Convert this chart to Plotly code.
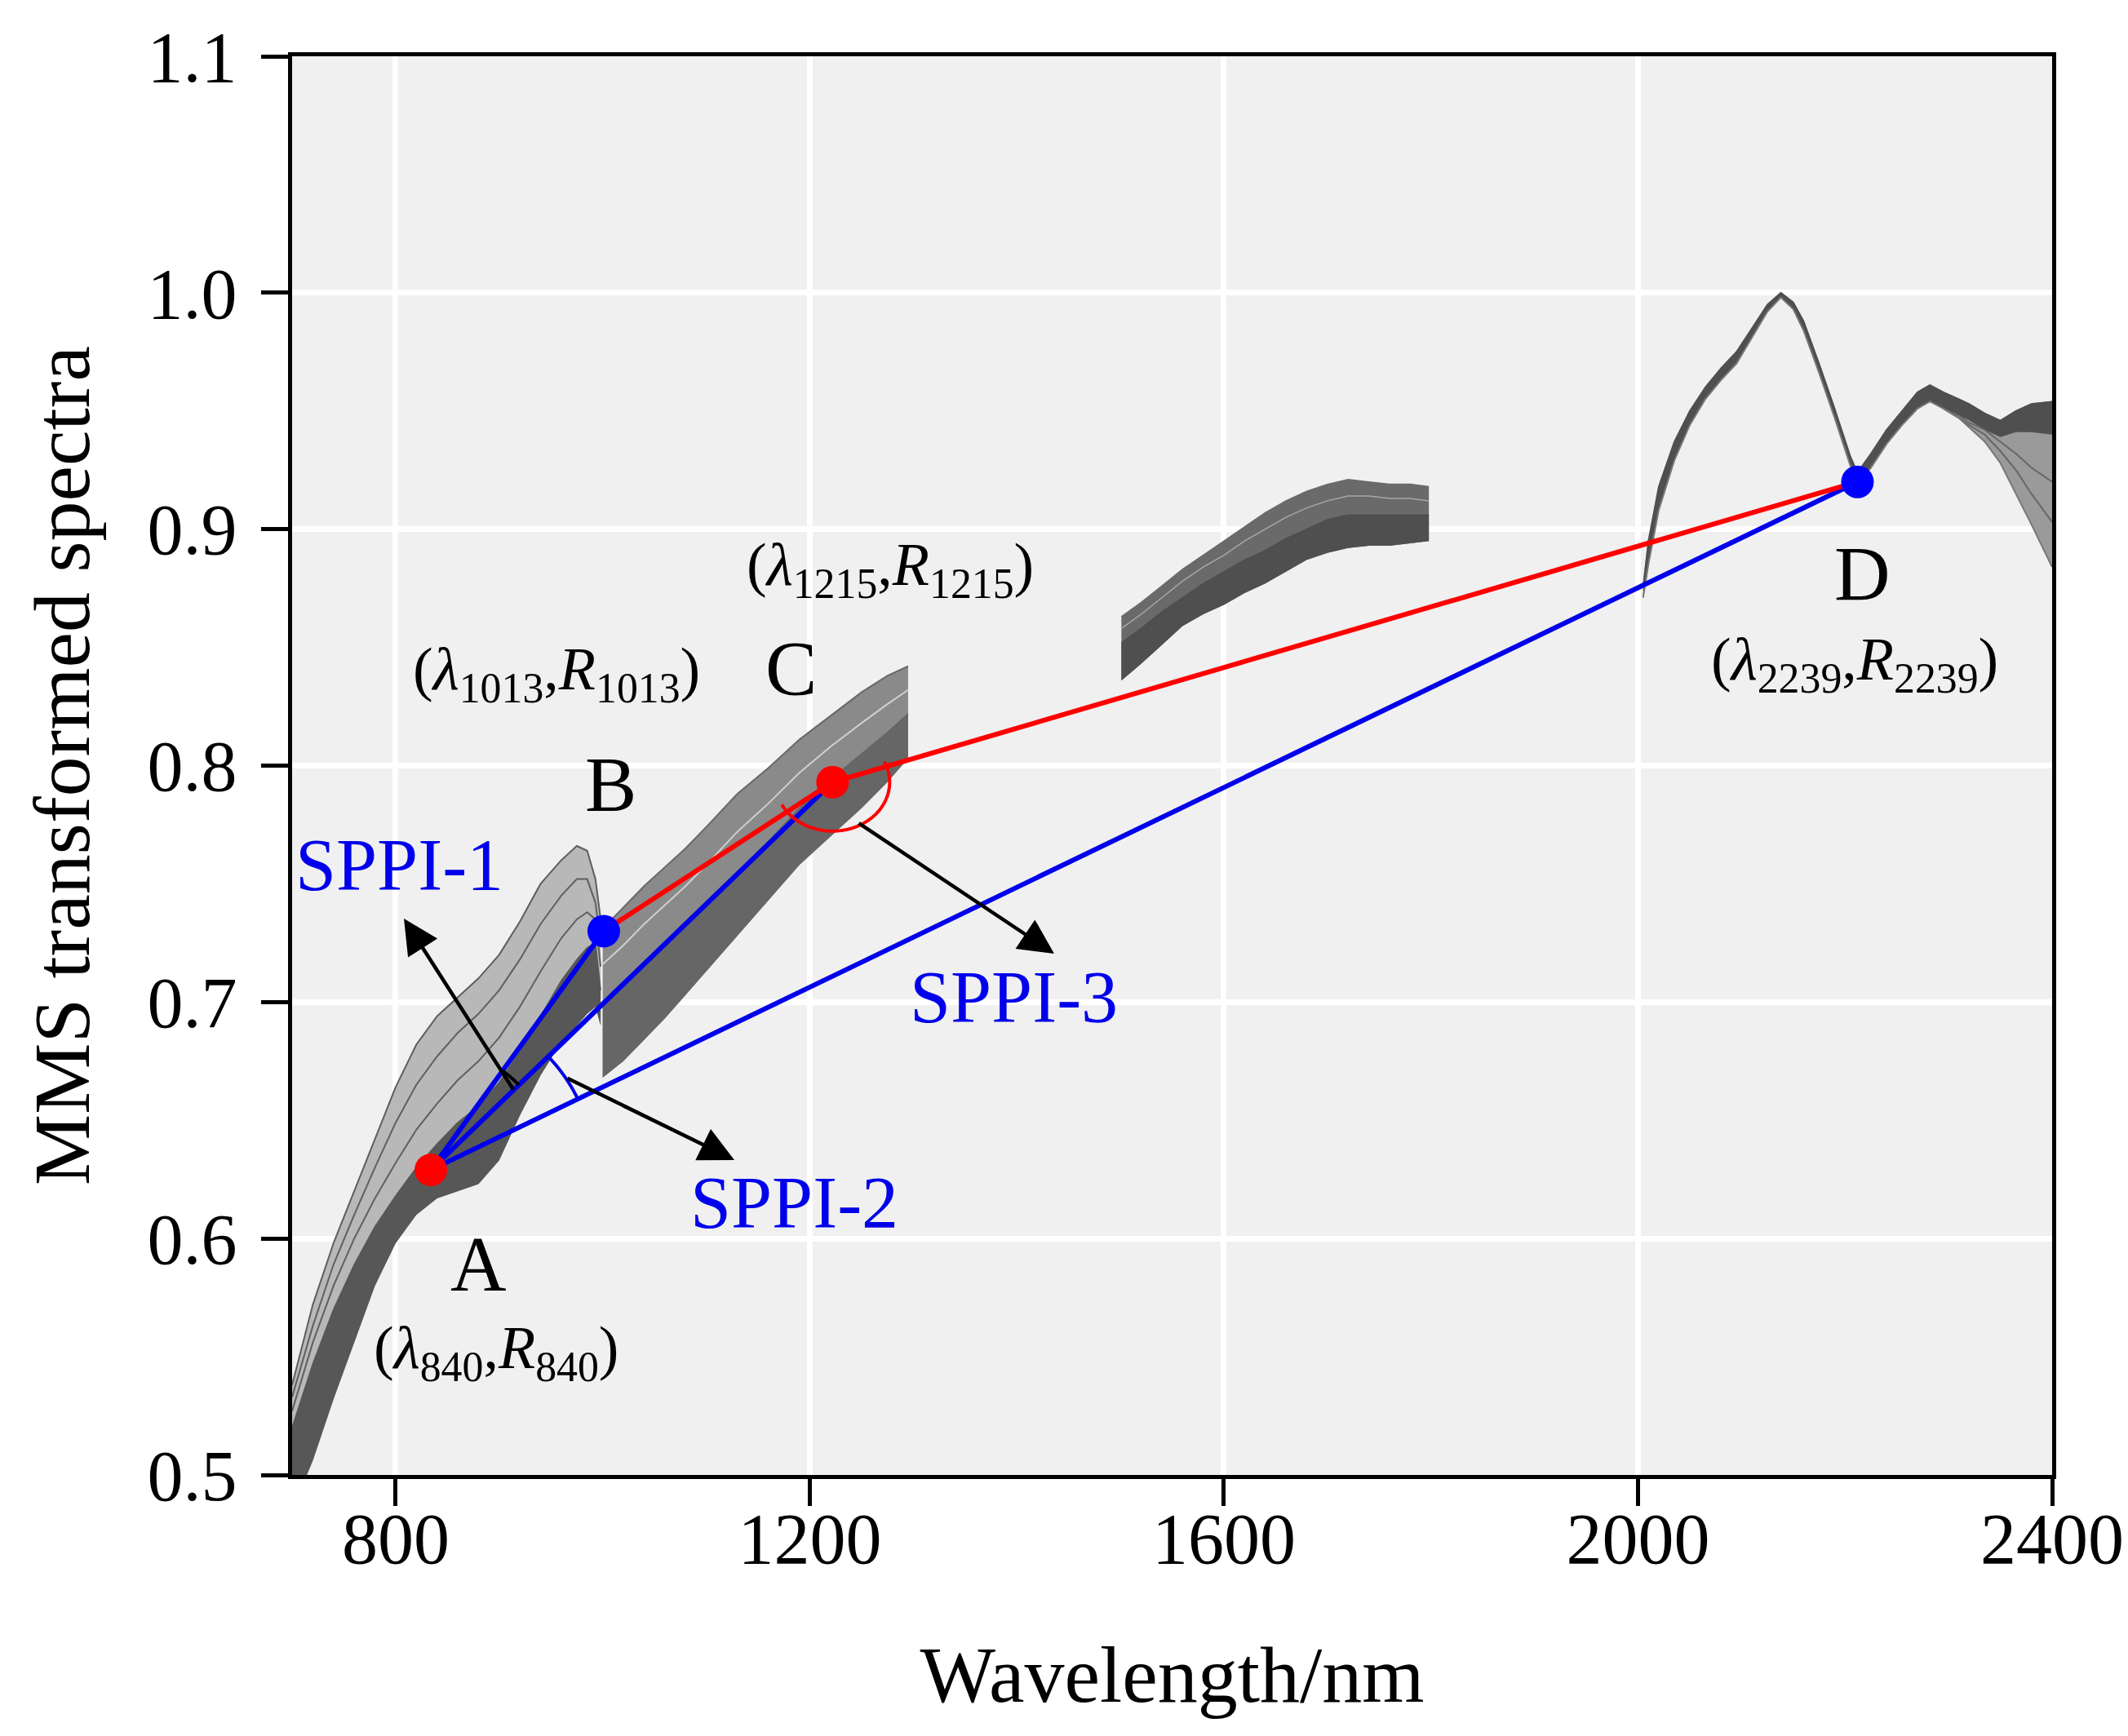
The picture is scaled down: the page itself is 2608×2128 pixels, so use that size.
import numpy as np
import plotly.graph_objects as go

# ---- spectra bundles (wavelength nm / MMS value) ----
seg1_wl = [700, 720, 740, 760, 780, 800, 820, 840, 860, 880, 900, 920, 940, 960, 975, 985, 993, 998]
seg1_upper = [0.538, 0.572, 0.598, 0.620, 0.642, 0.664, 0.682, 0.694, 0.702, 0.710, 0.720, 0.734, 0.750, 0.760, 0.766, 0.764, 0.752, 0.735]
seg1_mid_a = [0.533, 0.563, 0.589, 0.610, 0.630, 0.649, 0.665, 0.677, 0.687, 0.695, 0.705, 0.718, 0.733, 0.745, 0.752, 0.752, 0.742, 0.725]
seg1_mid_b = [0.527, 0.556, 0.580, 0.600, 0.617, 0.632, 0.646, 0.657, 0.667, 0.675, 0.685, 0.698, 0.713, 0.727, 0.735, 0.738, 0.735, 0.715]
seg1_core_top = [0.520, 0.547, 0.570, 0.589, 0.605, 0.618, 0.630, 0.640, 0.649, 0.656, 0.666, 0.679, 0.694, 0.709, 0.718, 0.723, 0.725, 0.705]
seg1_lower = [0.485, 0.506, 0.532, 0.556, 0.580, 0.598, 0.610, 0.617, 0.620, 0.623, 0.633, 0.652, 0.669, 0.683, 0.690, 0.695, 0.698, 0.690]

seg2_wl = [1000, 1020, 1040, 1060, 1080, 1100, 1130, 1160, 1190, 1220, 1250, 1275, 1295]
seg2_upper = [0.731, 0.740, 0.749, 0.757, 0.765, 0.774, 0.788, 0.799, 0.811, 0.821, 0.831, 0.838, 0.842]
seg2_streak = [0.716, 0.724, 0.733, 0.741, 0.749, 0.758, 0.772, 0.784, 0.797, 0.808, 0.818, 0.826, 0.832]
seg2_core_top = [0.700, 0.707, 0.715, 0.723, 0.732, 0.741, 0.755, 0.768, 0.782, 0.794, 0.805, 0.814, 0.822]
seg2_lower = [0.668, 0.675, 0.684, 0.693, 0.703, 0.713, 0.728, 0.743, 0.758, 0.770, 0.782, 0.793, 0.803]

seg3_wl = [1501, 1520, 1540, 1560, 1580, 1600, 1620, 1640, 1660, 1680, 1700, 1720, 1740, 1760, 1780, 1798]
seg3_upper = [0.863, 0.869, 0.876, 0.883, 0.889, 0.895, 0.901, 0.907, 0.912, 0.916, 0.919, 0.921, 0.920, 0.919, 0.919, 0.918]
seg3_streak = [0.858, 0.864, 0.871, 0.878, 0.884, 0.889, 0.895, 0.900, 0.905, 0.909, 0.912, 0.914, 0.914, 0.913, 0.913, 0.912]
seg3_core_top = [0.852, 0.858, 0.865, 0.871, 0.877, 0.882, 0.887, 0.891, 0.896, 0.900, 0.904, 0.906, 0.906, 0.906, 0.906, 0.906]
seg3_lower = [0.836, 0.843, 0.851, 0.859, 0.864, 0.868, 0.873, 0.877, 0.882, 0.887, 0.890, 0.892, 0.893, 0.893, 0.894, 0.895]

seg4_wl = [2005, 2010, 2020, 2035, 2050, 2065, 2080, 2095, 2110, 2125, 2138, 2150, 2160, 2175, 2190,
           2205, 2212, 2225, 2240, 2255, 2270, 2282, 2295, 2310, 2320, 2335, 2350, 2365, 2380, 2400]
seg4_upper = [0.876, 0.895, 0.918, 0.937, 0.950, 0.960, 0.968, 0.975, 0.985, 0.995, 1.000, 0.996, 0.988, 0.970, 0.951,
              0.931, 0.924, 0.932, 0.942, 0.950, 0.958, 0.961, 0.958, 0.955, 0.953, 0.949, 0.946, 0.950, 0.953, 0.954]
seg4_core_bottom = [0.871, 0.885, 0.908, 0.929, 0.944, 0.955, 0.963, 0.970, 0.981, 0.992, 0.998, 0.993, 0.984, 0.966, 0.947,
                    0.927, 0.919, 0.926, 0.936, 0.944, 0.951, 0.954, 0.951, 0.948, 0.946, 0.942, 0.939, 0.941, 0.941, 0.940]
seg4_lower = [0.871, 0.885, 0.908, 0.929, 0.944, 0.955, 0.963, 0.970, 0.981, 0.992, 0.998, 0.993, 0.984, 0.966, 0.947,
              0.927, 0.919, 0.926, 0.936, 0.944, 0.951, 0.954, 0.951, 0.947, 0.943, 0.937, 0.928, 0.915, 0.902, 0.884]
seg4_tail_wl = [2295, 2310, 2320, 2335, 2350, 2365, 2380, 2400]
seg4_tail_a = [0.951, 0.947, 0.944, 0.940, 0.933, 0.925, 0.915, 0.903]
seg4_tail_b = [0.951, 0.948, 0.945, 0.942, 0.937, 0.932, 0.926, 0.920]

# characteristic points A, B, C, D
pt_names = ["A", "B", "C", "D"]
pt_wl = [834, 1001, 1222, 2212]
pt_val = [0.629, 0.730, 0.793, 0.920]
pt_colors = ["red", "blue", "red", "blue"]

BLUE = "rgb(0,0,235)"
RED = "rgb(255,0,0)"

# plot area in pixels (used only to draw round angle arcs)
W, H = 2608, 2128
ML, MR, MT, MB = 350, 101, 61, 328
XR = [700, 2400]
YR = [0.5, 1.1]
sx = (W - ML - MR) / (XR[1] - XR[0])
sy = (H - MT - MB) / (YR[1] - YR[0])


def to_px(wl, v):
    return (wl - XR[0]) * sx, (v - YR[0]) * sy


def to_data(px, py):
    return px / sx + XR[0], py / sy + YR[0]


def angle(center, p):
    cx, cy = to_px(*center)
    px, py = to_px(*p)
    return np.arctan2(py - cy, px - cx)


def arc_path(center, a1, a2, rx, ry=None):
    ry = rx if ry is None else ry
    cx, cy = to_px(*center)
    pts = [to_data(cx + rx * np.cos(a), cy + ry * np.sin(a)) for a in np.linspace(a1, a2, 80)]
    return "M " + " L ".join(f"{x:.3f},{y:.5f}" for x, y in pts)


fig = go.Figure()


def band(wl, top, bottom, color):
    fig.add_trace(go.Scatter(x=wl, y=bottom, mode="lines", line=dict(width=0, color=color),
                             hoverinfo="skip"))
    fig.add_trace(go.Scatter(x=wl, y=top, mode="lines", line=dict(width=1.5, color=color),
                             fill="tonexty", fillcolor=color, hoverinfo="skip"))


def line(wl, vals, color="#555555", width=2):
    fig.add_trace(go.Scatter(x=wl, y=vals, mode="lines", line=dict(width=width, color=color),
                             hoverinfo="skip"))


# segment 1 (spread upward)
band(seg1_wl, seg1_upper, seg1_lower, "#b8b8b8")
band(seg1_wl, seg1_core_top, seg1_lower, "#575757")
for s in (seg1_upper, seg1_mid_a, seg1_mid_b):
    line(seg1_wl, s, "#5f5f5f", 2)

# segment 2
band(seg2_wl, seg2_upper, seg2_lower, "#8a8a8a")
band(seg2_wl, seg2_core_top, seg2_lower, "#666666")
line(seg2_wl, seg2_streak, "#cfcfcf", 2)
line(seg2_wl, seg2_upper, "#6a6a6a", 2)

# segment 3
band(seg3_wl, seg3_upper, seg3_lower, "#6a6a6a")
band(seg3_wl, seg3_core_top, seg3_lower, "#4f4f4f")
line(seg3_wl, seg3_streak, "#a8a8a8", 1.5)

# segment 4 (spread downward at the end)
band(seg4_wl, seg4_upper, seg4_lower, "#9a9a9a")
band(seg4_wl, seg4_upper, seg4_core_bottom, "#4f4f4f")
line(seg4_tail_wl, seg4_tail_a, "#666666", 2)
line(seg4_tail_wl, seg4_tail_b, "#666666", 2)
line(seg4_wl, seg4_lower, "#777777", 2)

# blue lines from A to B, C, D
for i in (1, 2, 3):
    fig.add_trace(go.Scatter(x=[pt_wl[0], pt_wl[i]], y=[pt_val[0], pt_val[i]], mode="lines",
                             line=dict(color=BLUE, width=6), hoverinfo="skip"))
# red line B - C - D
fig.add_trace(go.Scatter(x=pt_wl[1:], y=pt_val[1:], mode="lines",
                         line=dict(color=RED, width=6), hoverinfo="skip"))

# points
fig.add_trace(go.Scatter(x=pt_wl, y=pt_val, mode="markers",
                         marker=dict(size=40, color=pt_colors, line=dict(width=0)),
                         hoverinfo="skip"))

A = (pt_wl[0], pt_val[0])
B = (pt_wl[1], pt_val[1])
C = (pt_wl[2], pt_val[2])
D = (pt_wl[3], pt_val[3])

shapes = [
    # SPPI-1: angle BAC
    dict(type="path", path=arc_path(A, angle(A, C), angle(A, B), 150), line=dict(color="black", width=4)),
    # SPPI-2: angle CAD
    dict(type="path", path=arc_path(A, angle(A, D), angle(A, C), 200), line=dict(color=BLUE, width=4)),
    # SPPI-3: angle BCD, drawn below C
    dict(type="path", path=arc_path(C, angle(C, B) - 0.1, angle(C, D) + 0.15, 70, 60),
         line=dict(color=RED, width=4)),
]

annotations = []
# arrows (tip, tail)
arrows = [((808, 0.7353), (914.4, 0.6625)),
          ((1127.2, 0.6332), (964.8, 0.668)),
          ((1436.1, 0.7205), (1246.2, 0.776))]
for tip, tail in arrows:
    annotations.append(dict(x=tip[0], y=tip[1], ax=tail[0], ay=tail[1], xref="x", yref="y",
                            axref="x", ayref="y", text="", showarrow=True, arrowhead=2,
                            arrowsize=1.9, arrowwidth=4.5, arrowcolor="black", standoff=0))

labels = [
    ("SPPI-1", 804, 0.758, BLUE, 90),
    ("SPPI-2", 1185, 0.615, BLUE, 90),
    ("SPPI-3", 1397, 0.702, BLUE, 90),
    ("A", 880, 0.589, "black", 95),
    ("B", 1008, 0.792, "black", 95),
    ("C", 1182, 0.841, "black", 95),
    ("D", 2217, 0.881, "black", 95),
    ("(<i>λ</i><sub>840</sub>,<i>R</i><sub>840</sub>)", 897, 0.552, "black", 74),
    ("(<i>λ</i><sub>1013</sub>,<i>R</i><sub>1013</sub>)", 955, 0.839, "black", 74),
    ("(<i>λ</i><sub>1215</sub>,<i>R</i><sub>1215</sub>)", 1278, 0.883, "black", 74),
    ("(<i>λ</i><sub>2239</sub>,<i>R</i><sub>2239</sub>)", 2209, 0.843, "black", 74),
]
for txt, x, y, col, size in labels:
    annotations.append(dict(x=x, y=y, xref="x", yref="y", text=txt, showarrow=False,
                            font=dict(color=col, size=size, family="Liberation Serif"),
                            xanchor="center", yanchor="middle"))

fig.update_layout(
    width=W, height=H,
    margin=dict(l=ML, r=MR, t=MT, b=MB),
    plot_bgcolor="#f0f0f0", paper_bgcolor="white",
    showlegend=False,
    font=dict(family="Liberation Serif", color="black"),
    shapes=shapes,
    annotations=annotations,
)
fig.update_xaxes(
    range=XR, tickvals=[800, 1200, 1600, 2000, 2400],
    showline=True, linecolor="black", linewidth=5, mirror=True,
    ticks="outside", ticklen=33, tickwidth=5, tickcolor="black",
    showgrid=True, gridcolor="white", gridwidth=7, zeroline=False,
    tickfont=dict(size=88), ticklabelstandoff=-36,
    title=dict(text="Wavelength/nm", font=dict(size=98), standoff=85),
)
fig.update_yaxes(
    range=YR, tickvals=[0.5, 0.6, 0.7, 0.8, 0.9, 1.0, 1.1], tickformat=".1f",
    showline=True, linecolor="black", linewidth=5, mirror=True,
    ticks="outside", ticklen=33, tickwidth=5, tickcolor="black",
    showgrid=True, gridcolor="white", gridwidth=7, zeroline=False,
    tickfont=dict(size=88), ticklabelstandoff=12,
    title=dict(text="MMS transformed spectra", font=dict(size=98), standoff=40),
)

fig.write_html("out.html")
